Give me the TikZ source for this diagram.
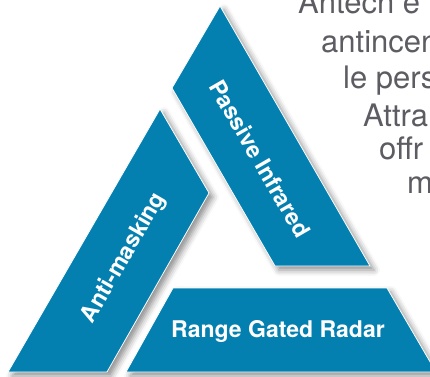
\documentclass[tikz,border=0pt]{standalone}
\usepackage{fontspec}
\setmainfont{TeX Gyre Heros}
\definecolor{segblue}{RGB}{4,128,176}
\definecolor{bodygray}{RGB}{92,92,98}
\usetikzlibrary{shadows.blur}

\begin{document}
\begin{tikzpicture}[x=1pt, y=-1pt,
    segment/.style={fill=segblue, draw=white, line width=0.8pt,
      blur shadow={shadow xshift=4pt, shadow yshift=-4pt, shadow blur radius=6pt, shadow opacity=45}},
    seglabel/.style={text=white, inner sep=0pt, font=\fontsize{23}{27}\selectfont\bfseries},
    bodytext/.style={text=bodygray, inner sep=0pt, anchor=base west, font=\fontsize{31}{36}\selectfont}]
    \useasboundingbox (0,0) rectangle (430,376);
    \clip (0,0) rectangle (430,376);

    % corners of the three strips
    \coordinate (pir-top) at (220,6);
    \coordinate (pir-br) at (370,266);
    \coordinate (pir-bl) at (275,266);
    \coordinate (pir-tl) at (172,88);
    \coordinate (am-top) at (160,109);
    \coordinate (am-tr) at (209,193);
    \coordinate (am-br) at (107,372);
    \coordinate (am-bl) at (8,372);
    \coordinate (rgr-tl) at (173,288);
    \coordinate (rgr-tr) at (387,288);
    \coordinate (rgr-br) at (436,372);
    \coordinate (rgr-bl) at (126,372);

    \path[segment] (pir-top) -- (pir-br) -- (pir-bl) -- (pir-tl) -- cycle;
    \path[segment] (am-top) -- (am-tr) -- (am-br) -- (am-bl) -- cycle;
    \path[segment] (rgr-tl) -- (rgr-tr) -- (rgr-br) -- (rgr-bl) -- cycle;

    \node[seglabel, rotate=-60] (pir-label) at (260,159) {Passive Infrared};
    \node[seglabel, rotate=60] (am-label) at (124,258) {Anti-masking};
    \node[seglabel] (rgr-label) at (278,331) {Range Gated Radar};

    % text running beside the triangle
    \node[bodytext] (line-a) at (298,13) {Antech e};
    \node[bodytext] (line-b) at (321,52) {antincen};
    \node[bodytext] (line-c) at (343,88) {le pers};
    \node[bodytext] (line-d) at (363,126) {Attra};
    \node[bodytext] (line-e) at (379,159) {offr};
    \node[bodytext] (line-f) at (407,193) {m};
\end{tikzpicture}
\end{document}
